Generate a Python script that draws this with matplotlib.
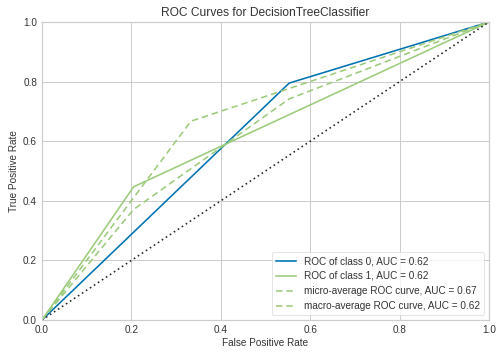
import matplotlib
matplotlib.use("Agg")
import matplotlib.pyplot as plt

# Data
class0_fpr = [0.0, 0.553, 1.0]
class0_tpr = [0.0, 0.795, 1.0]
class1_fpr = [0.0, 0.205, 1.0]
class1_tpr = [0.0, 0.447, 1.0]
micro_fpr = [0.0, 0.333, 1.0]
micro_tpr = [0.0, 0.667, 1.0]
macro_fpr = [0.0, 0.205, 0.553, 1.0]
macro_tpr = [0.0, 0.371, 0.742, 1.0]
labels = ["ROC of class 0, AUC = 0.62", "ROC of class 1, AUC = 0.62",
          "micro-average ROC curve, AUC = 0.67", "macro-average ROC curve, AUC = 0.62"]
ticks = [0.0, 0.2, 0.4, 0.6, 0.8, 1.0]

plt.rcParams['font.family'] = ['Liberation Sans', 'DejaVu Sans']
blue = "#0072B2"
green = "#9DCB7C"
grid_c = "#cccccc"

fig = plt.figure(figsize=(502/72, 359/72), dpi=72)
ax = fig.add_axes([42/502, 1-320/359, (489-42)/502, (320-22)/359])
ax.set_facecolor("white")

ax.plot(class0_fpr, class0_tpr, color=blue, lw=1.6, label=labels[0])
ax.plot(class1_fpr, class1_tpr, color=green, lw=1.6, label=labels[1])
ax.plot(micro_fpr, micro_tpr, color=green, lw=1.6, ls=(0, (4, 2.5)), label=labels[2])
ax.plot(macro_fpr, macro_tpr, color=green, lw=1.6, ls=(0, (4, 2.5)), label=labels[3])
ax.plot([0, 1], [0, 1], color="#222222", ls=(0, (1, 2)), lw=1.6)

ax.set_xlim(0, 1)
ax.set_ylim(0, 1)
ax.set_xticks(ticks)
ax.set_yticks(ticks)
ax.set_xticklabels([f"{t:.1f}" for t in ticks])
ax.set_yticklabels([f"{t:.1f}" for t in ticks])
ax.grid(True, color=grid_c, lw=1)
ax.set_axisbelow(True)
for s in ax.spines.values():
    s.set_color(grid_c)
    s.set_linewidth(1.2)
ax.tick_params(length=0, labelsize=10, colors="#333333", pad=5)
ax.set_title("ROC Curves for DecisionTreeClassifier", fontsize=12, color="#333333")
ax.set_xlabel("False Positive Rate", fontsize=10, color="#333333", labelpad=3)
ax.set_ylabel("True Positive Rate", fontsize=10, color="#333333")
leg = ax.legend(loc="lower right", fontsize=10, frameon=True, framealpha=0.8,
                edgecolor="#dddddd", fancybox=True, handlelength=2.0)
for t in leg.get_texts():
    t.set_color("#333333")

fig.savefig("out.png", dpi=72)
